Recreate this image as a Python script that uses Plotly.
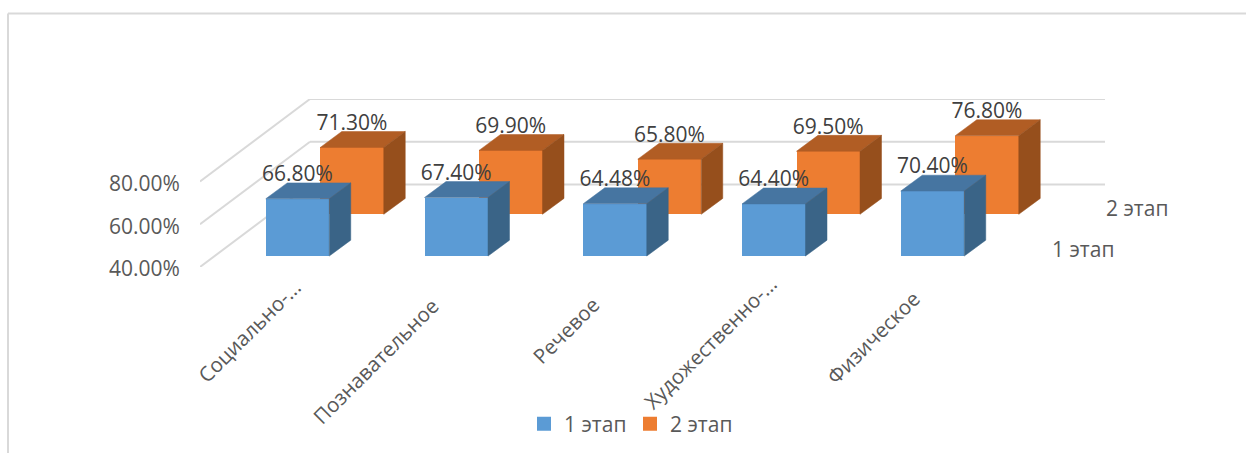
import plotly.graph_objects as go

categories = ["Социально-...", "Познавательное", "Речевое", "Художественно-...", "Физическое"]
series_names = ["1 этап", "2 этап"]
stage1 = [66.8, 67.4, 64.48, 64.4, 70.4]
stage2 = [71.3, 69.9, 65.8, 69.5, 76.8]
grid_values = [40, 60, 80]

# where each rotated category label ends, in px (these sit unevenly in the reference)
label_end_x = [309, 447, 608, 786, 929]
label_end_y = [272, 290, 289, 268, 283]

W, H = 1246, 455
PL, PR, PT, PB = 200, 1105, 99, 268          # plot box in px
SPAN_X = 158.75                               # px per category
SCALE_Y = 2.15                                # px per percentage point
X0 = (PL - 297.5) / SPAN_X
X1 = (PR - 297.5) / SPAN_X
Y0 = 40
Y1 = 40 + (PB - PT) / SCALE_Y

BAR_W = 63.5 / SPAN_X
DX = 21.5 / SPAN_X      # bar depth
DY = 16 / SCALE_Y
series = [
    dict(name=series_names[1], vals=stage2, shift=54.5 / SPAN_X, lift=(PB - 215) / SCALE_Y,
         front="#ED7D31", top="#B15D24", side="#964F1C"),
    dict(name=series_names[0], vals=stage1, shift=0.0, lift=(PB - 257) / SCALE_Y,
         front="#5B9BD5", top="#4675A1", side="#3A6487"),
]
WALL_DX = 110 / SPAN_X
WALL_DY = 83 / SCALE_Y

fig = go.Figure()

for s in series:
    xs = [i + s["shift"] for i in range(len(categories))]
    fig.add_trace(go.Bar(
        x=xs, y=[v - 40 for v in s["vals"]], base=[40 + s["lift"]] * len(xs),
        width=BAR_W, name=s["name"], marker=dict(color=s["front"], line=dict(width=0)),
        showlegend=False, hoverinfo="skip"))

for s in series:
    for i, v in enumerate(s["vals"]):
        xl = i + s["shift"] - BAR_W / 2
        xr = xl + BAR_W
        yb = 40 + s["lift"]
        yt = yb + v - 40
        fig.add_trace(go.Scatter(
            x=[xl, xr, xr + DX, xl + DX, xl], y=[yt, yt, yt + DY, yt + DY, yt],
            mode="lines", fill="toself", fillcolor=s["top"], line=dict(color=s["top"], width=0.5),
            showlegend=False, hoverinfo="skip"))
        fig.add_trace(go.Scatter(
            x=[xr, xr + DX, xr + DX, xr, xr], y=[yt, yt + DY, yb + DY, yb, yt],
            mode="lines", fill="toself", fillcolor=s["side"], line=dict(color=s["side"], width=0.5),
            showlegend=False, hoverinfo="skip"))

for s in series:
    fig.add_trace(go.Scatter(
        x=[i + s["shift"] for i in range(len(categories))],
        y=[v + s["lift"] + 23 / SCALE_Y for v in s["vals"]],
        mode="text", text=[f"{v:.2f}%" for v in s["vals"]],
        textposition="middle center", textfont=dict(family="Open Sans", size=21, color="#404040"),
        cliponaxis=False, showlegend=False, hoverinfo="skip"))

# legend entries
for name, color in [(series_names[0], "#5B9BD5"), (series_names[1], "#ED7D31")]:
    fig.add_trace(go.Scatter(x=[None], y=[None], name=name, mode="markers",
                             marker=dict(color=color, symbol="square", size=14), showlegend=True))

shapes = []
for g in grid_values:
    shapes.append(dict(type="line", xref="x", yref="y", x0=X0, y0=g, x1=X0 + WALL_DX, y1=g + WALL_DY,
                       line=dict(color="#D9D9D9", width=2), layer="below"))
    shapes.append(dict(type="line", xref="x", yref="y", x0=X0 + WALL_DX, y0=g + WALL_DY, x1=X1, y1=g + WALL_DY,
                       line=dict(color="#D9D9D9", width=2), layer="below"))


def px(p):
    return (p - PL) / (PR - PL)


def py(p):
    return (PB - p) / (PB - PT)


shapes.append(dict(type="line", xref="paper", yref="paper", x0=px(8), y0=py(13), x1=px(1246), y1=py(13),
                   line=dict(color="#D9D9D9", width=2)))
shapes.append(dict(type="line", xref="paper", yref="paper", x0=px(8), y0=py(13), x1=px(8), y1=py(455),
                   line=dict(color="#D9D9D9", width=2)))

annotations = [
    dict(text=series_names[1], xref="paper", yref="paper", x=px(1104), y=py(209), xanchor="left", yanchor="middle",
         showarrow=False, font=dict(family="Open Sans", size=21, color="#595959")),
    dict(text=series_names[0], xref="paper", yref="paper", x=px(1050), y=py(250), xanchor="left", yanchor="middle",
         showarrow=False, font=dict(family="Open Sans", size=21, color="#595959")),
]
for name, ex, ey in zip(categories, label_end_x, label_end_y):
    annotations.append(dict(text=name, xref="paper", yref="paper", x=px(ex), y=py(ey), xanchor="right",
                            yanchor="top", textangle=-45, showarrow=False,
                            font=dict(family="Open Sans", size=20.5, color="#595959")))

fig.update_layout(
    width=W, height=H, autosize=False, barmode="overlay", bargap=0,
    margin=dict(l=PL, r=W - PR, t=PT, b=H - PB, pad=0),
    paper_bgcolor="white", plot_bgcolor="white",
    shapes=shapes, annotations=annotations,
    legend=dict(orientation="h", x=px(524), y=py(424), xanchor="left", yanchor="middle",
                font=dict(family="Open Sans", size=21, color="#595959"),
                entrywidth=61, entrywidthmode="pixels", bgcolor="rgba(0,0,0,0)"),
    xaxis=dict(range=[X0, X1], tickmode="array", tickvals=list(range(len(categories))),
               showticklabels=False, showgrid=False, zeroline=False, showline=False, ticks=""),
    yaxis=dict(range=[Y0, Y1], tickmode="array", tickvals=grid_values, ticktext=[f"{g:.2f}%" for g in grid_values],
               showgrid=False, zeroline=False, showline=False, ticks="outside", ticklen=15, ticklabelshift=2,
               tickcolor="rgba(0,0,0,0)", tickfont=dict(family="Open Sans", size=21, color="#595959")),
)
fig.write_html("out.html", config={"displayModeBar": False},
               post_script="document.body.style.margin='0';document.documentElement.style.overflow='hidden';")
